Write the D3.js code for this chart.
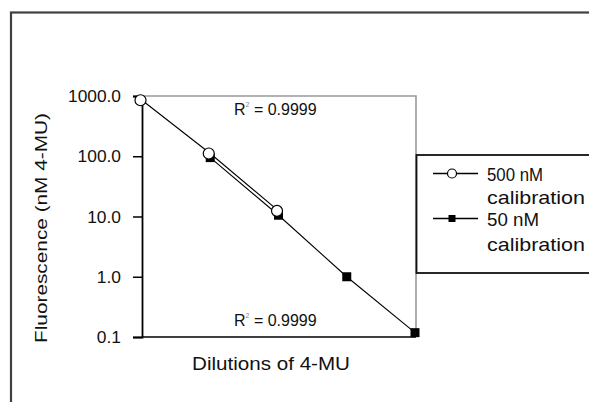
<!DOCTYPE html>
<html>
<head>
<meta charset="utf-8">
<script src="https://cdn.jsdelivr.net/npm/d3@7"></script>
<style>
  html, body { margin: 0; padding: 0; background: #fff; }
  svg { display: block; }
  text { font-family: "Liberation Sans", Arial, sans-serif; fill: #111; }
</style>
</head>
<body>
<svg id="chart" width="589" height="402"></svg>
<script>
// ---- data ----
const dilutions = ["1", "1:10", "1:100", "1:1000", "1:10000"];
const series500 = [850, 111, 12.4, null, null];
const series50 = [null, 95, 10.5, 1.0, 0.118];
const yTicks = [0.1, 1, 10, 100, 1000];
const seriesNames = ["500 nM", "50 nM"];
const r2Labels = ["0.9999", "0.9999"];

const svg = d3.select("#chart");

// outer frame
svg.append("rect")
  .attr("x", 11).attr("y", 12.5)
  .attr("width", 700).attr("height", 500)
  .attr("fill", "none").attr("stroke", "#404040").attr("stroke-width", 2.2);

const plot = { left: 142, right: 416, top: 96, bottom: 337 };

const x = d3.scalePoint().domain(dilutions).range([plot.left, plot.right - 1]).padding(0);
const y = d3.scaleLog().domain([0.1, 1000]).range([plot.bottom, plot.top]);

// plot frame top/right (grey)
svg.append("path")
  .attr("d", `M${plot.left},${plot.top}H${plot.right}V${plot.bottom}`)
  .attr("fill", "none").attr("stroke", "#9a9a9a").attr("stroke-width", 1.6);

// y axis
const yAxis = d3.axisLeft(y).tickValues(yTicks).tickFormat(d3.format(".1f")).tickSize(9).tickPadding(12);
const gy = svg.append("g").attr("transform", `translate(${plot.left},0)`).call(yAxis);
gy.select(".domain").attr("stroke", "#000").attr("stroke-width", 1.8);
gy.selectAll(".tick line").attr("stroke", "#000").attr("stroke-width", 1.5);
gy.selectAll(".tick text")
  .style("font-family", "'Liberation Sans', Arial, sans-serif")
  .attr("font-size", 16.5).attr("fill", "#111")
  .attr("dy", "0.34em")
  .attr("textLength", d => (d3.format(".1f")(d).length - 1) * 9.6 + 5)
  .attr("lengthAdjust", "spacingAndGlyphs");

// x axis line (no ticks)
const xAxis = d3.axisBottom(x).tickSize(0).tickFormat("");
const gx = svg.append("g").attr("transform", `translate(0,${plot.bottom})`).call(xAxis);
gx.select(".domain").attr("d", `M${plot.left},0H${plot.right}`).attr("stroke", "#000").attr("stroke-width", 1.6);

// axis titles
svg.append("text")
  .attr("x", 271).attr("y", 370)
  .attr("text-anchor", "middle")
  .attr("font-size", 18)
  .attr("textLength", 158).attr("lengthAdjust", "spacingAndGlyphs")
  .text("Dilutions of 4-MU");

svg.append("text")
  .attr("transform", "translate(47,228) rotate(-90)")
  .attr("text-anchor", "middle")
  .attr("font-size", 17)
  .attr("textLength", 230).attr("lengthAdjust", "spacingAndGlyphs")
  .text("Fluorescence (nM 4-MU)");

// R² labels
const r2Pos = [115, 326];
r2Labels.forEach((lab, i) => {
  const t = svg.append("text")
    .attr("x", 234).attr("y", r2Pos[i])
    .attr("font-size", 16);
  t.append("tspan").text("R");
  t.append("tspan").attr("font-size", 7).attr("dy", -8).attr("fill", "#888").text("2");
  t.append("tspan").attr("dy", 8).text(" = " + lab);
});

// lines
const line = d3.line()
  .defined(d => d.v != null)
  .x(d => x(d.k))
  .y(d => y(d.v));

const d500 = dilutions.map((k, i) => ({ k, v: series500[i] }));
const d50 = dilutions.map((k, i) => ({ k, v: series50[i] }));

svg.append("path").datum(d50).attr("d", line)
  .attr("fill", "none").attr("stroke", "#000").attr("stroke-width", 1.1);
svg.append("path").datum(d500).attr("d", line)
  .attr("fill", "none").attr("stroke", "#000").attr("stroke-width", 1.1);

// markers: squares (50 nM)
svg.selectAll("rect.sq").data(d50.filter(d => d.v != null)).enter()
  .append("rect").attr("class", "sq")
  .attr("x", d => x(d.k) - 4.5).attr("y", d => y(d.v) - 4.5)
  .attr("width", 9).attr("height", 9)
  .attr("fill", "#000");

// markers: circles (500 nM)
svg.selectAll("circle.ci").data(d500.filter(d => d.v != null)).enter()
  .append("circle").attr("class", "ci")
  .attr("cx", d => x(d.k) - 1.5).attr("cy", d => y(d.v))
  .attr("r", 5.5)
  .attr("fill", "#fff").attr("stroke", "#000").attr("stroke-width", 1.2);

// legend
const lg = svg.append("g");
lg.append("rect")
  .attr("x", 416.5).attr("y", 155)
  .attr("width", 300).attr("height", 118)
  .attr("fill", "#fff").attr("stroke", "#111").attr("stroke-width", 1.8);

const legendRows = [
  { name: seriesNames[0], markY: 173.5, base: [181, 204], type: "circle", w: 56 },
  { name: seriesNames[1], markY: 218.5, base: [226, 251], type: "square", w: 52 }
];
legendRows.forEach(r => {
  lg.append("line").attr("x1", 433).attr("x2", 478)
    .attr("y1", r.markY).attr("y2", r.markY)
    .attr("stroke", "#000").attr("stroke-width", 1.3);
  if (r.type === "circle") {
    lg.append("circle").attr("cx", 452).attr("cy", r.markY).attr("r", 4.5)
      .attr("fill", "#fff").attr("stroke", "#000").attr("stroke-width", 1.2);
  } else {
    lg.append("rect").attr("x", 452 - 3.5).attr("y", r.markY - 3.5)
      .attr("width", 7).attr("height", 7).attr("fill", "#000");
  }
  lg.append("text").attr("x", 487).attr("y", r.base[0])
    .attr("font-size", 19)
    .attr("textLength", r.w).attr("lengthAdjust", "spacingAndGlyphs")
    .text(r.name);
  lg.append("text").attr("x", 487).attr("y", r.base[1])
    .attr("font-size", 19)
    .attr("textLength", 98).attr("lengthAdjust", "spacingAndGlyphs")
    .text("calibration");
});
</script>
</body>
</html>
